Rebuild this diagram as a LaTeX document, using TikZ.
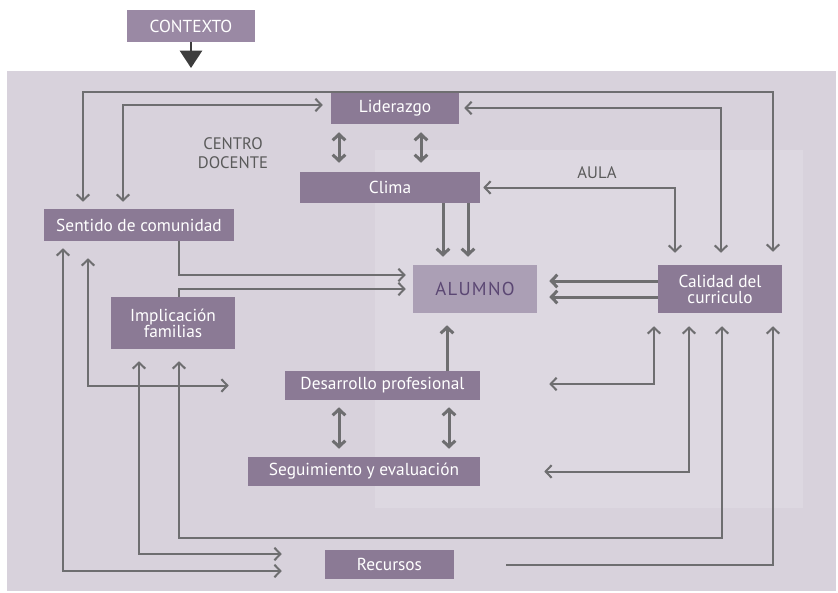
\documentclass[tikz,border=0pt]{standalone}
\usepackage{fontspec}
\setmainfont{PT Sans}
\newfontfamily\alumnofont[LetterSpace=7]{PT Sans}
\usetikzlibrary{arrows.meta,calc}

\definecolor{panel}{HTML}{D8D2DC}
\definecolor{aulapanel}{HTML}{DDD8E1}
\definecolor{boxfill}{HTML}{8B7A95}
\definecolor{ctxfill}{HTML}{9A89A4}
\definecolor{alufill}{HTML}{AB9FB5}
\definecolor{alutext}{HTML}{5B4773}
\definecolor{linegray}{HTML}{6E6E70}
\definecolor{labelgray}{HTML}{5A5A5A}
\definecolor{ctxarrow}{HTML}{3D3D3D}

\tikzset{
  >={Straight Barb[length=4.5pt,width=9.5pt]},
  box/.style={fill=boxfill, text=white, inner sep=0pt, align=center,
    font=\fontsize{13}{12}\selectfont},
  conn/.style={draw=linegray, line width=1.5pt},
  thickconn/.style={draw=linegray, line width=2.25pt},
  zonelabel/.style={text=labelgray, align=center,
    font=\fontsize{12.5}{14.5}\selectfont},
}

\begin{document}
\begin{tikzpicture}[x=0.75pt,y=-0.75pt]
\useasboundingbox (0,0) rectangle (838,592);

% background panels: school and classroom
\fill[panel] (7,71) rectangle (836,591);
\fill[aulapanel] (375,150) rectangle (803,508);

% context box and its arrow
\node[box, fill=ctxfill, minimum width=96pt, minimum height=24pt] (ctx) at (191,26) {CONTEXTO};
\coordinate (ctxtip) at (191,68);
\draw[draw=ctxarrow, line width=2pt, -{Triangle[length=13pt,width=16.5pt]}] (ctx.south) -- (ctxtip);

% zone labels
\node[zonelabel] (centro) at (233,153) {CENTRO\\DOCENTE};
\node[zonelabel] (aula) at (597,173) {AULA};

% factor boxes
\node[box, minimum width=96pt, minimum height=24pt] (lid) at (395,108) {Liderazgo};
\node[box, minimum width=135pt, minimum height=23.25pt] (clima) at (390,187.5) {Clima};
\node[box, minimum width=142.5pt, minimum height=24pt] (sent) at (139,225) {Sentido de comunidad};
\node[fill=alufill, text=alutext, inner sep=0pt, minimum width=93pt, minimum height=36pt,
      font=\alumnofont\fontsize{14}{14}\selectfont] (alu) at (475,289) {ALUMNO};
\node[box, minimum width=93pt, minimum height=36pt] (cal) at (720,289) {Calidad del\\curriculo};
\node[box, minimum width=93pt, minimum height=39pt] (impl) at (173,323) {Implicación\\familias};
\node[box, minimum width=146.25pt, minimum height=21.75pt] (des) at (382.5,385.5) {Desarrollo profesional};
\node[box, minimum width=174pt, minimum height=21.75pt] (seg) at (364,471.5) {Seguimiento y evaluación};
\node[box, minimum width=96.75pt, minimum height=21.75pt] (rec) at (389.5,564.5) {Recursos};

% free end of the resources link
\coordinate (recout) at ($(rec.east)+(52,0)$);

% links around Liderazgo
\draw[conn,<->] ($(sent.north)+(-56,-7)$) |- (lid.north) -| ($(cal.north)+(53,-13)$);
\draw[conn,<->] ($(sent.north)+(-16,-7)$) |- ($(lid.west)+(-8,-3)$);
\draw[conn,<->] ($(lid.east)+(5,0)$) -| ($(cal.north)+(1,-12)$);
\draw[thickconn,<->] ($(lid.south)+(-56,8)$) -- ($(clima.north)+(-51,-9)$);
\draw[thickconn,<->] ($(lid.south)+(26,8)$) -- ($(clima.north)+(31,-9)$);

% links into ALUMNO
\draw[thickconn,->] ($(clima.south)+(53,0)$) -- ($(alu.north)+(-32,-8)$);
\draw[thickconn,->] ($(clima.south)+(78,0)$) -- ($(alu.north)+(-7,-8)$);
\draw[conn,<->] ($(cal.north)+(-45,-12)$) |- ($(clima.east)+(3,0)$);
\draw[thickconn,->] ($(cal.west)+(0,-8)$) -- ($(alu.east)+(12,-8)$);
\draw[thickconn,->] ($(cal.west)+(0,8)$) -- ($(alu.east)+(12,8)$);
\draw[conn,->] ($(sent.south)+(40,0)$) |- ($(alu.west)+(-7,-14)$);
\draw[conn,->] ($(impl.north)+(6,0)$) |- ($(alu.west)+(-7,0)$);
\draw[thickconn,->] ($(des.north)+(64.5,0)$) -- ($(alu.south)+(-28,12)$);

% links in the lower part
\draw[conn,<->] ($(sent.south)+(-51,17)$) |- ($(des.west)+(-56,0)$);
\draw[conn,<->] ($(sent.south)+(-76,7)$) |- ($(rec.west)+(-43,6.5)$);
\draw[conn,<->] ($(impl.south)+(-34,12)$) |- ($(rec.west)+(-43,-10.5)$);
\draw[conn,<->] ($(impl.south)+(6,12)$) -- ++(0,177) -| ($(cal.south)+(2,13)$);
\draw[conn,<->] ($(cal.south)+(-66,13)$) |- ($(des.east)+(69,-1.5)$);
\draw[conn,<->] ($(cal.south)+(-31,13)$) |- ($(seg.east)+(64,0)$);
\draw[conn,->] (recout) -| ($(cal.south)+(53,13)$);
\draw[thickconn,<->] ($(des.south)+(-43.5,7)$) -- ($(seg.north)+(-25,-8)$);
\draw[thickconn,<->] ($(des.south)+(66.5,7)$) -- ($(seg.north)+(85,-8)$);
\end{tikzpicture}
\end{document}
